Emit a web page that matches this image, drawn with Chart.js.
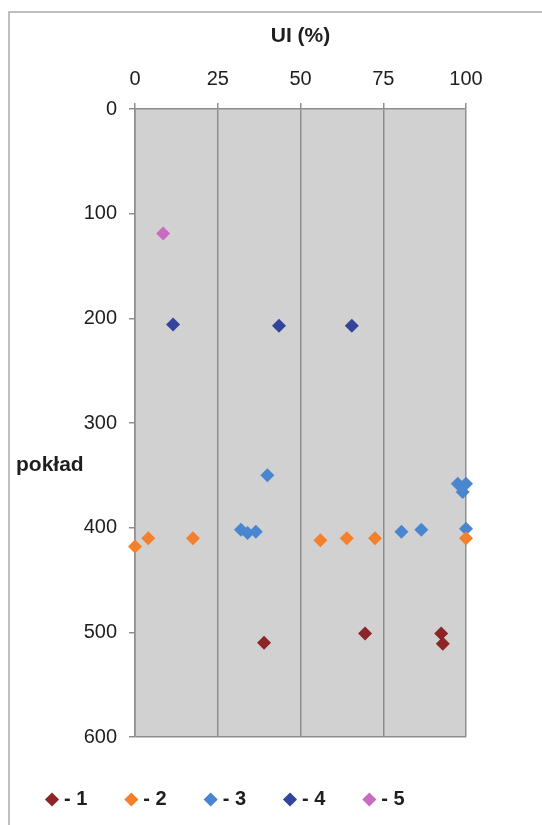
<!DOCTYPE html>
<html>
<head>
<meta charset="utf-8">
<script src="https://cdn.jsdelivr.net/npm/chart.js@4.4.0/dist/chart.umd.min.js"></script>
<style>
  html, body { margin: 0; padding: 0; background: #fff; }
  canvas { display: block; }
</style>
</head>
<body>
<canvas id="chart" width="542" height="825"></canvas>
<script>
// UI (%) against pokład, one list per series
const seriesLabels = ["- 1", "- 2", "- 3", "- 4", "- 5"]
const seriesColors = ["#8b2527", "#f4802c", "#4a86d0", "#33449b", "#c96cc0"]

const ui1 = [39, 69.5, 92.5, 93]
const poklad1 = [510, 501, 501, 511]

const ui2 = [0, 4, 17.5, 56, 64, 72.5, 100]
const poklad2 = [418, 410, 410, 412, 410, 410, 410]

const ui3 = [40, 32, 34, 36.5, 80.5, 86.5, 97.5, 100, 99, 100]
const poklad3 = [350, 402, 405, 404, 404, 402, 358, 358, 366, 401]

const ui4 = [11.5, 43.5, 65.5]
const poklad4 = [206, 207, 207]

const ui5 = [8.5]
const poklad5 = [119]

const xTicks = [0, 25, 50, 75, 100]
const yTicks = [0, 100, 200, 300, 400, 500, 600]

const axisGray = "#8e8e8e"
const textColor = "#1e1e1e"
const fontFamily = "'Liberation Sans', Arial, sans-serif"

const toPoints = (xs, ys) => xs.map((x, i) => ({x: x, y: ys[i]}))
const allX = [ui1, ui2, ui3, ui4, ui5]
const allY = [poklad1, poklad2, poklad3, poklad4, poklad5]

const datasets = seriesLabels.map((label, i) => ({
    label: label,
    data: toPoints(allX[i], allY[i]),
    clip: false,
    pointStyle: "rectRot",
    pointRadius: 7,
    pointHoverRadius: 7,
    pointBorderWidth: 0,
    backgroundColor: seriesColors[i],
    borderColor: seriesColors[i],
}))

// grey plot area, outer frame and the horizontal "pokład" label
const decorations = {
    id: "decorations",
    beforeDraw(chart){
        const ctx = chart.ctx
        const a = chart.chartArea
        ctx.save()
        ctx.fillStyle = "#fff"
        ctx.fillRect(0, 0, chart.width, chart.height)
        ctx.strokeStyle = "#ababab"
        ctx.lineWidth = 1.5
        ctx.strokeRect(9, 12, 700, 900)
        ctx.fillStyle = "#d1d1d1"
        ctx.fillRect(a.left, a.top, a.right - a.left, a.bottom - a.top)
        ctx.restore()
    },
    afterDraw(chart){
        const ctx = chart.ctx
        ctx.save()
        ctx.font = "bold 21px " + fontFamily
        ctx.fillStyle = textColor
        ctx.textAlign = "left"
        ctx.textBaseline = "middle"
        ctx.fillText("pokład", 16, 465)
        ctx.restore()
    }
}

// empty axes used only as spacers
const spacer = (position, size) => ({
    type: "linear",
    position: position,
    display: true,
    ticks: {display: false},
    grid: {display: false, drawTicks: false},
    border: {display: false},
    afterFit: (scale) => {
        if (position === "bottom") scale.height = size
        else scale.width = size
    }
})

new Chart(document.getElementById("chart"), {
    type: "scatter",
    data: {datasets: datasets},
    options: {
        responsive: false,
        animation: false,
        devicePixelRatio: 1,
        layout: {padding: {left: 8, top: 12, right: 0, bottom: 5.5}},
        plugins: {
            tooltip: {enabled: false},
            legend: {
                position: "bottom",
                align: "start",
                labels: {
                    usePointStyle: true,
                    boxHeight: 10,
                    boxWidth: 4,
                    padding: 42,
                    color: textColor,
                    font: {family: fontFamily, size: 20, weight: "bold"},
                }
            }
        },
        scales: {
            x: {
                type: "linear",
                position: "top",
                min: 0,
                max: 100,
                afterBuildTicks: (scale) => { scale.ticks = xTicks.map(v => ({value: v})) },
                afterFit: (scale) => { scale.height = 97 },
                ticks: {
                    padding: 12,
                    color: textColor,
                    font: {family: fontFamily, size: 20},
                },
                grid: {color: axisGray, lineWidth: 1.5, tickLength: 6, tickColor: axisGray},
                border: {color: axisGray, width: 1.5},
                title: {
                    display: true,
                    text: "UI (%)",
                    color: textColor,
                    font: {family: fontFamily, size: 21, weight: "bold"},
                    padding: {top: 12, bottom: 0},
                }
            },
            y: {
                type: "linear",
                reverse: true,
                min: 0,
                max: 600,
                afterBuildTicks: (scale) => { scale.ticks = yTicks.map(v => ({value: v})) },
                afterFit: (scale) => { scale.width = 127 },
                ticks: {
                    padding: 12,
                    color: textColor,
                    font: {family: fontFamily, size: 20},
                },
                grid: {
                    color: (c) => (c.tick && c.tick.value === 600) ? axisGray : "rgba(0,0,0,0)",
                    lineWidth: 1.5,
                    tickLength: 6,
                    tickColor: axisGray,
                },
                border: {color: axisGray, width: 1.5},
            },
            gapBottom: spacer("bottom", 10.5),
            gapRight: spacer("right", 76),
        }
    },
    plugins: [decorations]
})
</script>
</body>
</html>
